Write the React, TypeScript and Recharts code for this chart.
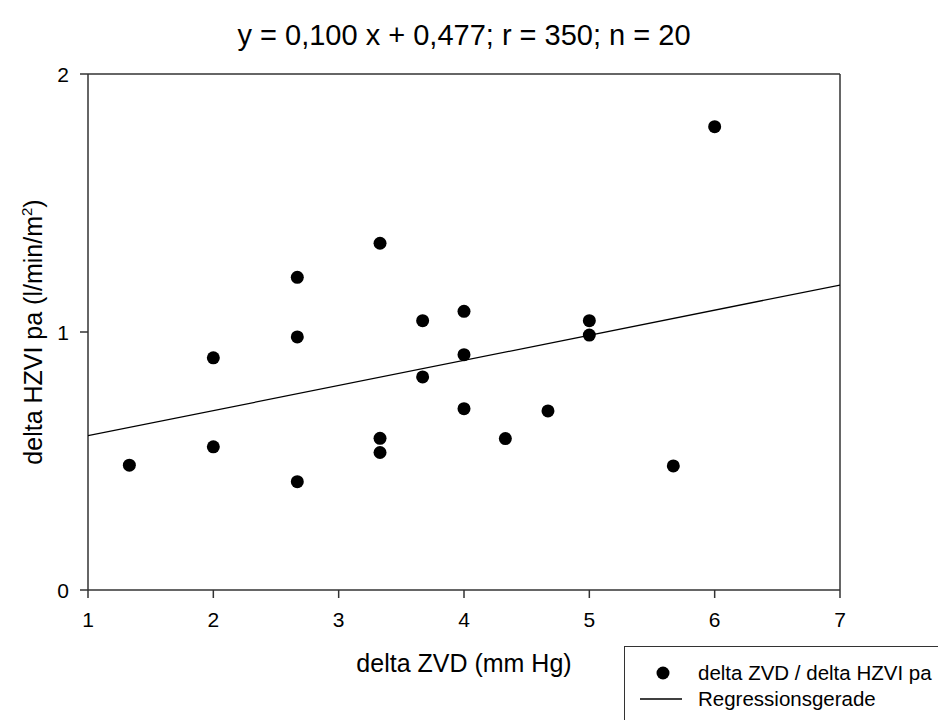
import { ScatterChart, Scatter, XAxis, YAxis, ReferenceLine } from 'recharts'

// ── Data ─────────────────────────────────────────────────────────────────────
const zvd = [1.33, 2, 2, 2.67, 2.67, 2.67, 3.33, 3.33, 3.33, 3.67, 3.67, 4, 4, 4, 4.33, 4.67, 5, 5, 5.67, 6]
const hzvi = [0.484, 0.9, 0.555, 1.212, 0.981, 0.42, 1.344, 0.588, 0.533, 1.044, 0.826, 1.08, 0.912, 0.703, 0.587, 0.694, 1.044, 0.988, 0.481, 1.796]

// regression line endpoints (x = 1 and x = 7)
const regX = [1, 7]
const regY = [0.598, 1.182]

const xTicks = [1, 2, 3, 4, 5, 6, 7]
const yTicks = [0, 1, 2]

const points = zvd.map((x, i) => ({ x, y: hzvi[i] }))
const regression = regX.map((x, i) => ({ x, y: regY[i] }))

const FONT = '"Liberation Sans", Arial, sans-serif'
const AXIS_COLOR = '#333'

function Dot(props: { cx?: number; cy?: number }) {
  if (props.cx == null || props.cy == null) return null
  return <circle cx={props.cx} cy={props.cy} r={6.5} fill="#000" />
}

// tick labels drawn by hand so the font size sticks
function XTick(props: { x?: number; y?: number; payload?: { value: number } }) {
  return (
    <text x={props.x} y={(props.y ?? 0) + 27} textAnchor="middle" fontSize={21} fontFamily={FONT} fill="#000">
      {props.payload?.value}
    </text>
  )
}

function YTick(props: { x?: number; y?: number; payload?: { value: number } }) {
  return (
    <text x={(props.x ?? 0) - 9} y={(props.y ?? 0) + 8} textAnchor="end" fontSize={21} fontFamily={FONT} fill="#000">
      {props.payload?.value}
    </text>
  )
}

function LegendBox() {
  return (
    <div
      style={{
        position: 'absolute', left: 624, top: 646, width: 330, height: 90,
        border: '1.5px solid #333', background: '#fff', boxSizing: 'border-box',
        fontFamily: FONT, fontSize: 20.5, color: '#000',
      }}
    >
      <svg width={60} height={70} style={{ position: 'absolute', left: 0, top: 0 }}>
        <circle cx={38} cy={26} r={6.5} fill="#000" />
        <line x1={15} x2={57} y1={52} y2={52} stroke="#000" strokeWidth={1.3} />
      </svg>
      <div style={{ position: 'absolute', left: 73, top: 14, lineHeight: '24px', whiteSpace: 'nowrap' }}>
        delta ZVD / delta HZVI pa
      </div>
      <div style={{ position: 'absolute', left: 73, top: 40, lineHeight: '24px', whiteSpace: 'nowrap' }}>
        Regressionsgerade
      </div>
    </div>
  )
}

export default function App() {
  return (
    <div style={{ position: 'absolute', left: 0, top: 0, width: 938, height: 720, background: '#fff', overflow: 'hidden', fontFamily: FONT }}>
      <div style={{ position: 'absolute', left: 0, width: 928, top: 16, textAlign: 'center', fontSize: 29, lineHeight: '38px' }}>
        y = 0,100 x + 0,477; r = 350; n = 20
      </div>
      <ScatterChart width={938} height={720} margin={{ top: 74, right: 98, bottom: 129, left: 87 }}>
        <XAxis
          type="number" dataKey="x" domain={[1, 7]} ticks={xTicks} height={1}
          allowDataOverflow tick={<XTick />} tickSize={8}
          axisLine={{ stroke: AXIS_COLOR, strokeWidth: 1.5 }} tickLine={{ stroke: AXIS_COLOR, strokeWidth: 1.5 }}
        />
        <YAxis
          type="number" dataKey="y" domain={[0, 2]} ticks={yTicks} width={1}
          allowDataOverflow tick={<YTick />} tickSize={8}
          axisLine={{ stroke: AXIS_COLOR, strokeWidth: 1.5 }} tickLine={{ stroke: AXIS_COLOR, strokeWidth: 1.5 }}
        />
        <ReferenceLine y={2} stroke={AXIS_COLOR} strokeWidth={1.5} />
        <ReferenceLine x={7} stroke={AXIS_COLOR} strokeWidth={1.5} />
        <Scatter
          name="Regressionsgerade" data={regression} line={{ stroke: '#000', strokeWidth: 1.3 }}
          shape={() => <g />} isAnimationActive={false}
        />
        <Scatter name="delta ZVD / delta HZVI pa" data={points} shape={<Dot />} isAnimationActive={false} />
      </ScatterChart>
      <LegendBox />
      <div style={{ position: 'absolute', left: 88, width: 752, top: 648, textAlign: 'center', fontSize: 25, lineHeight: '30px' }}>
        delta ZVD (mm Hg)
      </div>
      <div
        style={{
          position: 'absolute', left: 30, top: 332, fontSize: 25, lineHeight: '30px', whiteSpace: 'nowrap',
          transform: 'translate(-50%, -50%) rotate(-90deg)',
        }}
      >
        delta HZVI pa (l/min/m<sup style={{ fontSize: 15 }}>2</sup>)
      </div>
    </div>
  )
}
